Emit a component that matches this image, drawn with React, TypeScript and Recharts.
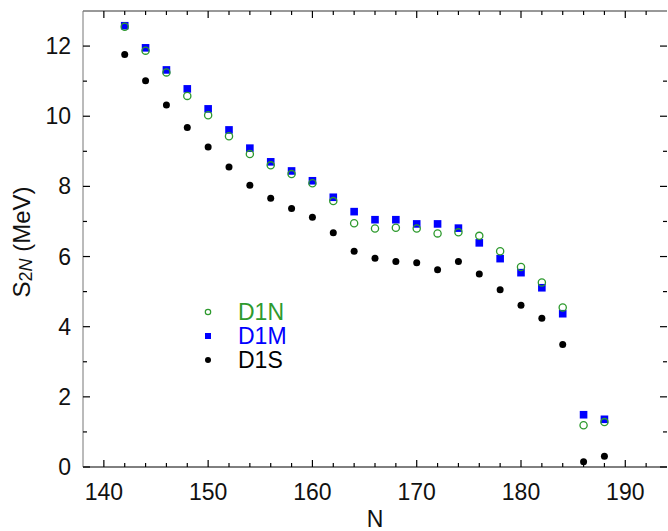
import { ScatterChart, Scatter, XAxis, YAxis } from "recharts";

const neutrons = [142, 144, 146, 148, 150, 152, 154, 156, 158, 160, 162, 164, 166, 168, 170, 172, 174, 176, 178, 180, 182, 184, 186, 188];
const d1n = [12.55, 11.87, 11.25, 10.58, 10.03, 9.43, 8.92, 8.6, 8.35, 8.09, 7.58, 6.95, 6.8, 6.82, 6.8, 6.66, 6.69, 6.59, 6.15, 5.7, 5.26, 4.55, 1.19, 1.28];
const d1m = [12.58, 11.95, 11.32, 10.78, 10.21, 9.61, 9.09, 8.7, 8.44, 8.16, 7.69, 7.28, 7.05, 7.05, 6.93, 6.93, 6.81, 6.39, 5.94, 5.54, 5.11, 4.37, 1.49, 1.36];
const d1s = [11.76, 11.01, 10.32, 9.68, 9.12, 8.55, 8.03, 7.66, 7.37, 7.12, 6.68, 6.15, 5.95, 5.86, 5.82, 5.62, 5.86, 5.5, 5.05, 4.61, 4.24, 3.49, 0.15, 0.31];

const xTicks = [140, 142, 144, 146, 148, 150, 152, 154, 156, 158, 160, 162, 164, 166, 168, 170, 172, 174, 176, 178, 180, 182, 184, 186, 188, 190, 192];
const yTicks = [0, 1, 2, 3, 4, 5, 6, 7, 8, 9, 10, 11, 12];

const GREEN = "#2e9a2e";
const BLUE = "#0000ff";
const FONT = "'Liberation Sans', Arial, sans-serif";

const toPoints = (ys: number[]) => neutrons.map((n, i) => ({ n, s: ys[i] }));

const series = [
  { name: "D1N", data: toPoints(d1n), color: GREEN },
  { name: "D1M", data: toPoints(d1m), color: BLUE },
  { name: "D1S", data: toPoints(d1s), color: "#000" },
];

const OpenCircle = (p: any) => (
  <circle cx={p.cx} cy={p.cy} r={3.6} fill="none" stroke={GREEN} strokeWidth={1.3} />
);
const Square = (p: any) => <rect x={p.cx - 3.8} y={p.cy - 3.8} width={7.6} height={7.6} fill={BLUE} />;
const Dot = (p: any) => <circle cx={p.cx} cy={p.cy} r={3.5} fill="#000" />;
const Nothing = () => <g />;

// ticks point inward; majors every 10 on x, every 2 on y
const bottomTick = (p: any) => {
  const major = p.payload.value % 10 === 0;
  const x = Number(p.x);
  const y = Number(p.y);
  return (
    <g key={`b${p.index}`}>
      <path d={`M${x},${y}V${y - (major ? 7 : 4)}`} stroke="#000" strokeWidth={1.2} fill="none" />
      {major && (
        <text x={x} y={y + 33} textAnchor="middle" fontSize={23} fontFamily={FONT} fill="#111">
          {p.payload.value}
        </text>
      )}
    </g>
  );
};
const topTick = (p: any) => {
  const major = p.payload.value % 10 === 0;
  const x = Number(p.x);
  const y = Number(p.y);
  return (
    <g key={`t${p.index}`}>
      <path d={`M${x},${y}V${y + (major ? 7 : 4)}`} stroke="#000" strokeWidth={1.2} fill="none" />
    </g>
  );
};
const leftTick = (p: any) => {
  const major = p.payload.value % 2 === 0;
  const x = Number(p.x);
  const y = Number(p.y);
  return (
    <g key={`l${p.index}`}>
      <path d={`M${x},${y}H${x + (major ? 7 : 4)}`} stroke="#000" strokeWidth={1.2} fill="none" />
      {major && (
        <text x={x - 12} y={y + 8} textAnchor="end" fontSize={23} fontFamily={FONT} fill="#111">
          {p.payload.value}
        </text>
      )}
    </g>
  );
};
const rightTick = (p: any) => {
  const major = p.payload.value % 2 === 0;
  const x = Number(p.x);
  const y = Number(p.y);
  return (
    <g key={`r${p.index}`}>
      <path d={`M${x},${y}H${x - (major ? 7 : 4)}`} stroke="#000" strokeWidth={1.2} fill="none" />
    </g>
  );
};

const YLabel = (p: any) => {
  const vb = p.viewBox;
  const cx = vb.x + 21;
  const cy = vb.y + vb.height / 2 + 3;
  return (
    <text x={cx} y={cy} transform={`rotate(-90, ${cx}, ${cy})`} textAnchor="middle" dominantBaseline="central" fontSize={24} fontFamily={FONT} fill="#111">
      S
      <tspan fontSize={18} dy={5}>2</tspan>
      <tspan fontSize={18} fontStyle="italic">N</tspan>
      <tspan dy={-5}> (MeV)</tspan>
    </text>
  );
};

const XLabel = (p: any) => {
  const vb = p.viewBox;
  return (
    <text x={vb.x + vb.width / 2} y={vb.y + 60} textAnchor="middle" fontSize={23} fontFamily={FONT} fill="#111">
      N
    </text>
  );
};

const LegendBox = () => (
  <div style={{ position: "absolute", left: 196, top: 300, fontFamily: FONT, fontSize: 23, lineHeight: "24px" }}>
    {series.map((s) => (
      <div key={s.name} style={{ display: "flex", alignItems: "center", color: s.color, height: 24 }}>
        <svg width={42} height={24}>
          {s.name === "D1N" && <circle cx={12} cy={12} r={2.7} fill="none" stroke={GREEN} strokeWidth={1.2} />}
          {s.name === "D1M" && <rect x={9} y={9} width={6} height={6} fill={BLUE} />}
          {s.name === "D1S" && <circle cx={12} cy={12} r={3} fill="#000" />}
        </svg>
        <span>{s.name}</span>
      </div>
    ))}
  </div>
);

export default function App() {
  return (
    <div style={{ position: "absolute", left: 0, top: 0, width: 668, height: 531, background: "#fff" }}>
      <ScatterChart width={668} height={531} margin={{ top: 10, right: 0, bottom: 0, left: 0 }}>
        <XAxis
          xAxisId="b"
          type="number"
          dataKey="n"
          domain={[138, 194]}
          ticks={xTicks}
          interval={0}
          height={64}
          tickSize={0}
          tickMargin={0}
          tickLine={false}
          tick={bottomTick}
          axisLine={{ stroke: "#000" }}
          label={<XLabel />}
        />
        <XAxis
          xAxisId="t"
          orientation="top"
          type="number"
          dataKey="n"
          domain={[138, 194]}
          ticks={xTicks}
          interval={0}
          height={1}
          tickSize={0}
          tickMargin={0}
          tickLine={false}
          tick={topTick}
          axisLine={{ stroke: "#333" }}
        />
        <YAxis
          yAxisId="l"
          type="number"
          dataKey="s"
          domain={[0, 13]}
          ticks={yTicks}
          interval={0}
          width={83}
          tickSize={0}
          tickMargin={0}
          tickLine={false}
          tick={leftTick}
          axisLine={{ stroke: "#777" }}
          label={<YLabel />}
        />
        <YAxis
          yAxisId="r"
          orientation="right"
          type="number"
          dataKey="s"
          domain={[0, 13]}
          ticks={yTicks}
          interval={0}
          width={1}
          tickSize={0}
          tickMargin={0}
          tickLine={false}
          tick={rightTick}
          axisLine={false}
        />
        <Scatter xAxisId="b" yAxisId="l" name="D1S" data={series[2].data} shape={Dot} isAnimationActive={false} />
        <Scatter xAxisId="b" yAxisId="l" name="D1M" data={series[1].data} shape={Square} isAnimationActive={false} />
        <Scatter xAxisId="b" yAxisId="l" name="D1N" data={series[0].data} shape={OpenCircle} isAnimationActive={false} />
        {/* binds the mirrored top/right axes so they get drawn */}
        <Scatter xAxisId="t" yAxisId="r" name="frame" data={series[2].data} shape={Nothing} isAnimationActive={false} />
      </ScatterChart>
      <LegendBox />
    </div>
  );
}
